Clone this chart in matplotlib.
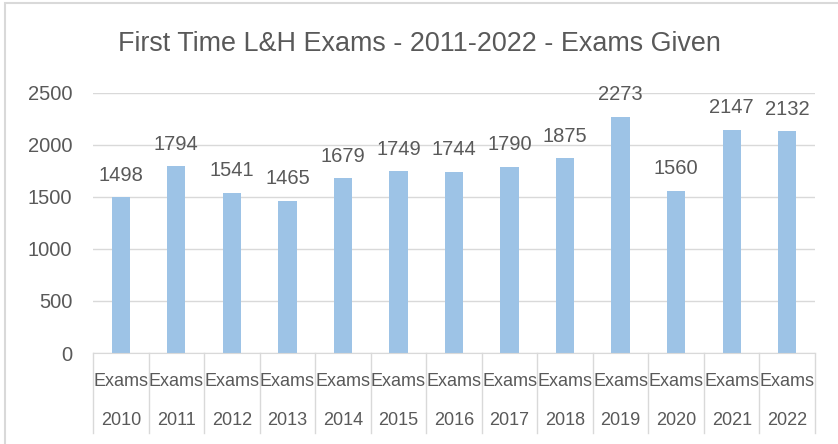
import matplotlib
matplotlib.use("Agg")
import matplotlib.pyplot as plt
from matplotlib.patches import Rectangle

years = ["2010", "2011", "2012", "2013", "2014", "2015", "2016", "2017", "2018", "2019", "2020", "2021", "2022"]
series_name = "Exams"
values = [1498, 1794, 1541, 1465, 1679, 1749, 1744, 1790, 1875, 2273, 1560, 2147, 2132]
title = "First Time L&H Exams - 2011-2022 - Exams Given"

plt.rcParams["font.family"] = ["Liberation Sans", "DejaVu Sans"]

txt = "#595959"
grid = "#D9D9D9"
bar_c = "#9DC3E6"

fig = plt.figure(figsize=(8.38, 4.44), dpi=100)
W, H = 838, 444
ax = fig.add_axes([93 / W, 1 - 353 / H, (815 - 93) / W, (353 - 93) / H])

x = list(range(len(values)))
ax.bar(x, values, width=0.33, color=bar_c, zorder=2)
ax.set_xlim(-0.5, len(values) - 0.5)
ax.set_ylim(0, 2500)
ax.set_yticks(range(0, 2501, 500))
ax.tick_params(axis="y", length=0, labelsize=14.5, labelcolor=txt, pad=15)
ax.set_xticks([])
ax.yaxis.grid(True, color=grid, linewidth=1, zorder=0)
for s in ["top", "right", "left"]:
    ax.spines[s].set_visible(False)
ax.spines["bottom"].set_color(grid)

for xi, v in zip(x, values):
    ax.annotate(str(v), (xi, v), xytext=(0, 9), textcoords="offset points",
                ha="center", va="bottom", fontsize=14.5, color=txt)

# two-level category axis
px = 2500 / 260.0
for i in range(len(values) + 1):
    xd = i - 0.5
    ax.plot([xd, xd], [0, -80 * px], color=grid, linewidth=1, clip_on=False, zorder=1)
for xi, yr in zip(x, years):
    ax.text(xi, -28 * px, series_name, ha="center", va="center", fontsize=13, color=txt, clip_on=False)
    ax.text(xi, -67 * px, yr, ha="center", va="center", fontsize=13, color=txt, clip_on=False)

fig.text(0.5, 1 - 44 / H, title, ha="center", va="center", fontsize=19.4, color=txt)

# chart border
fig.add_artist(Rectangle((5 / W, -0.1), 1.2, 1 - 3 / H + 0.1, transform=fig.transFigure,
                         fill=False, edgecolor=grid, linewidth=1.5))

fig.savefig("out.png", dpi=100)
